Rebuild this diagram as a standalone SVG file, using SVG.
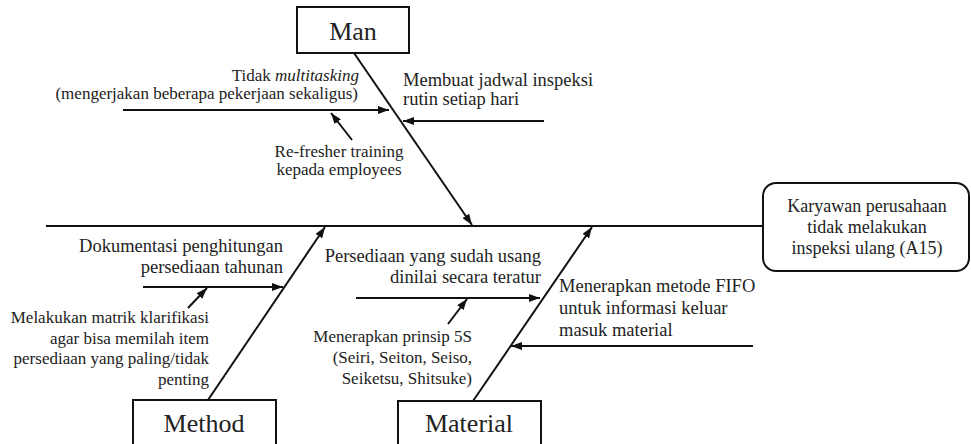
<svg xmlns="http://www.w3.org/2000/svg" width="971" height="444" viewBox="0 0 971 444" font-family="'Liberation Serif', 'Times New Roman', Times, 'DejaVu Serif', serif">
<style>
text{font-family:'Liberation Serif','Times New Roman',Times,'DejaVu Serif',serif;fill:#222}
.cat{font-size:26px;text-anchor:middle}
.s17{font-size:17px}
.s18{font-size:18.5px}
.eff{font-size:18px;text-anchor:middle}
.box{fill:#fff;stroke:#111;stroke-width:2}
.ln{stroke:#111;stroke-width:2;fill:none}
.ar{stroke:#111;stroke-width:2;fill:none;marker-end:url(#ah)}
.end{text-anchor:end}
</style>
<defs>
<marker id="ah" markerUnits="userSpaceOnUse" markerWidth="11" markerHeight="8" refX="11" refY="4" orient="auto">
<path d="M0,0 L11,4 L0,8 z" fill="#111"/>
</marker>
</defs>
<g id="connectors">
<line class="ln" x1="46" y1="226" x2="763" y2="226"/>
<line class="ar" x1="354" y1="53" x2="472" y2="225"/>
<line class="ar" x1="208" y1="400" x2="325" y2="227"/>
<line class="ar" x1="473" y1="401" x2="592" y2="227"/>
<line class="ar" x1="123" y1="110" x2="389" y2="110"/>
<line class="ar" x1="352" y1="140" x2="331" y2="113"/>
<line class="ar" x1="544" y1="121" x2="403" y2="121"/>
<line class="ar" x1="143" y1="287" x2="283" y2="287"/>
<line class="ar" x1="188" y1="308" x2="207" y2="288"/>
<line class="ar" x1="356" y1="298" x2="540" y2="298"/>
<line class="ar" x1="448" y1="324" x2="467" y2="299"/>
<line class="ar" x1="753" y1="346" x2="511" y2="346"/>
</g>
<g id="node-man">
<rect class="box" x="297" y="7" width="112" height="46"/>
<text class="cat" x="353" y="40">Man</text>
</g>
<g id="node-method">
<rect class="box" x="133" y="400" width="143" height="60"/>
<text class="cat" x="204" y="432">Method</text>
</g>
<g id="node-material">
<rect class="box" x="398" y="401" width="143" height="60"/>
<text class="cat" x="469" y="432">Material</text>
</g>
<g id="node-effect">
<rect class="box" x="763" y="183" width="206" height="88" rx="13"/>
<text class="eff" x="867" y="212">Karyawan perusahaan</text>
<text class="eff" x="867" y="233">tidak melakukan</text>
<text class="eff" x="867" y="254">inspeksi ulang (A15)</text>
</g>
<g id="cause-multitasking">
<text class="s17 end" x="359" y="81">Tidak <tspan font-style="italic">multitasking</tspan></text>
<text class="s17 end" x="358" y="99">(mengerjakan beberapa pekerjaan sekaligus)</text>
</g>
<g id="cause-refresher">
<text class="s17" x="339" y="157" text-anchor="middle">Re-fresher training</text>
<text class="s17" x="339" y="175" text-anchor="middle">kepada employees</text>
</g>
<g id="cause-jadwal">
<text class="s18" x="403" y="86">Membuat jadwal inspeksi</text>
<text class="s18" x="403" y="105">rutin setiap hari</text>
</g>
<g id="cause-dokumentasi">
<text class="s18 end" x="283" y="252">Dokumentasi penghitungan</text>
<text class="s18 end" x="283" y="273">persediaan tahunan</text>
</g>
<g id="cause-matrik">
<text class="s17 end" x="209" y="323">Melakukan matrik klarifikasi</text>
<text class="s17 end" x="209" y="344">agar bisa memilah item</text>
<text class="s17 end" x="209" y="364">persediaan yang paling/tidak</text>
<text class="s17 end" x="209" y="385">penting</text>
</g>
<g id="cause-usang">
<text class="s18 end" x="541" y="262">Persediaan yang sudah usang</text>
<text class="s18 end" x="541" y="283">dinilai secara teratur</text>
</g>
<g id="cause-5s">
<text class="s17 end" x="472" y="342" font-size="17.5">Menerapkan prinsip 5S</text>
<text class="s17 end" x="472" y="363" font-size="17.5">(Seiri, Seiton, Seiso,</text>
<text class="s17 end" x="472" y="384" font-size="17.5">Seiketsu, Shitsuke)</text>
</g>
<g id="cause-fifo">
<text class="s18" x="559" y="292">Menerapkan metode FIFO</text>
<text class="s18" x="559" y="314">untuk informasi keluar</text>
<text class="s18" x="559" y="336">masuk material</text>
</g>
</svg>
